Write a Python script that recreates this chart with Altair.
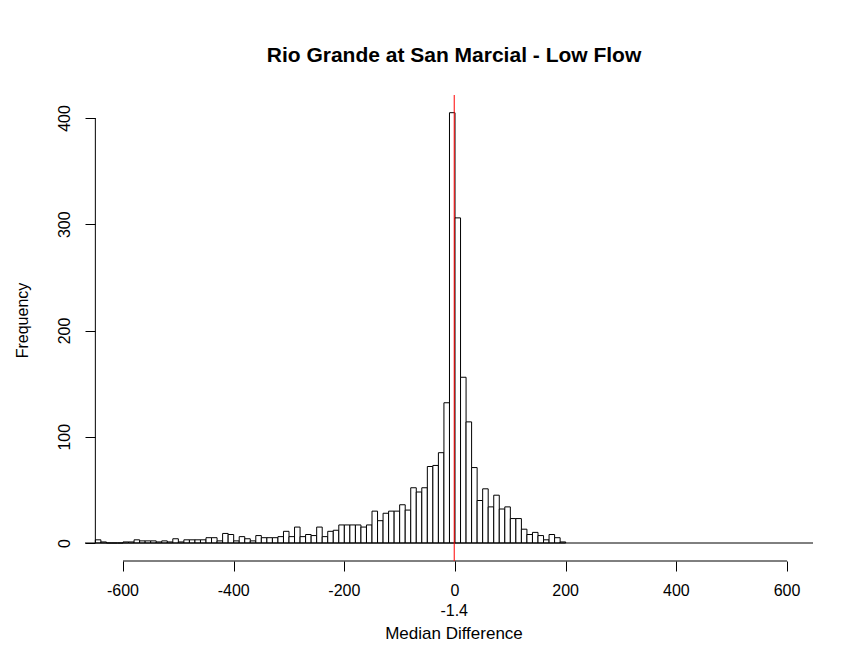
import altair as alt
import pandas as pd

# ---- data ----
bin_starts = list(range(-650, 200, 10))
counts = [
    3, 1, 0, 0, 0,
    1, 1, 3, 2, 2, 2, 1, 2, 1, 4,
    1, 3, 3, 3, 3, 5, 5, 2, 9, 8,
    2, 6, 4, 2, 7, 5, 5, 5, 6, 11,
    6, 15, 6, 8, 7, 15, 6, 11, 12, 17,
    17, 17, 17, 15, 17, 30, 21, 28, 30, 30,
    36, 31, 52, 48, 52, 72, 73, 85, 132, 405,
    306, 156, 114, 71, 40, 51, 34, 45, 32, 34,
    23, 23, 13, 8, 10, 7, 3, 8, 5, 1,
]
bin_width = 10
median_diff = -1.4
median_label = "-1.4"
x_ticks = [-600, -400, -200, 0, 200, 400, 600]
x_tick_labels = ["-600", "-400", "-200", "0", "200", "400", "600"]
y_ticks = [0, 100, 200, 300, 400]
title_text = "Rio Grande at San Marcial - Low Flow"
x_title = "Median Difference"
y_title = "Frequency"

assert len(bin_starts) == len(counts)

df = pd.DataFrame({
    "start": bin_starts,
    "end": [s + bin_width for s in bin_starts],
    "count": counts,
    "zero": [0] * len(counts),
})

W, H = 728, 466
FONT = "Liberation Sans"
xscale = alt.Scale(domain=[-668.7, 647.0], nice=False, zero=False)
yscale = alt.Scale(domain=[-16.94, 421.65], nice=False, zero=False)

x_axis = alt.Axis(values=x_ticks, domain=False, grid=False, tickSize=10,
                  tickColor="black", labels=False,
                  title=x_title, titleFont=FONT, titleFontSize=17,
                  titleFontWeight="normal", titleColor="black",
                  titleX=368.5, titleY=72, titleBaseline="middle",
                  titleAlign="center", titleAnchor="start")

y_axis = alt.Axis(values=y_ticks, domain=False, grid=False, tickSize=10,
                  offset=-10, tickColor="black", labelColor="black",
                  labelFont=FONT, labelFontSize=16, labelAngle=270,
                  labelAlign="center", labelBaseline="bottom",
                  labelPadding=13, labelExpr="'' + datum.value",
                  labelOverlap=False, labelFlush=False,
                  title=y_title, titleFont=FONT, titleFontSize=16,
                  titleFontWeight="normal", titleColor="black",
                  titleAngle=270, titleX=-73, titleY=225,
                  titleBaseline="middle", titleAlign="center",
                  titleAnchor="start")

bars = alt.Chart(df).mark_bar(
    fill="white", stroke="black", strokeWidth=1, cornerRadius=0
).encode(
    x=alt.X("start:Q", scale=xscale, axis=x_axis),
    x2="end:Q",
    y=alt.Y("count:Q", scale=yscale, axis=y_axis),
    y2="zero:Q",
)

base_df = pd.DataFrame({"y0": [0]})
baseline = alt.Chart(base_df).mark_rule(color="black", strokeWidth=1).encode(
    y=alt.Y("y0:Q", scale=yscale)
)

yline_df = pd.DataFrame({"x": [bin_starts[0]], "lo": [y_ticks[0]], "hi": [y_ticks[-1]]})
y_axis_line = alt.Chart(yline_df).mark_rule(color="black", strokeWidth=1).encode(
    x=alt.X("x:Q", scale=xscale), y=alt.Y("lo:Q", scale=yscale), y2="hi:Q"
)

xline_df = pd.DataFrame({"lo": [x_ticks[0]], "hi": [x_ticks[-1]]})
x_axis_line = alt.Chart(xline_df).mark_rule(color="black", strokeWidth=1).encode(
    x=alt.X("lo:Q", scale=xscale), x2="hi:Q", y=alt.value(H)
)

# x tick labels drawn through the x scale
xlab_df = pd.DataFrame({"v": x_ticks, "t": x_tick_labels})
x_labels = alt.Chart(xlab_df).mark_text(
    font=FONT, fontSize=16, color="black", baseline="middle", align="center"
).encode(
    x=alt.X("v:Q", scale=xscale),
    y=alt.value(496),
    text="t:N",
)

med_df = pd.DataFrame({"m": [median_diff], "label": [median_label]})
median_line = alt.Chart(med_df).mark_rule(color="red", strokeWidth=1).encode(
    x=alt.X("m:Q", scale=xscale)
)

median_text = alt.Chart(med_df).mark_text(
    font=FONT, fontSize=16, color="black", baseline="middle", align="center"
).encode(
    x=alt.X("m:Q", scale=xscale),
    y=alt.value(515.5),
    text="label:N",
)

chart = alt.layer(
    bars, baseline, y_axis_line, x_axis_line, median_line, median_text, x_labels
).properties(
    width=W,
    height=H,
    autosize=alt.AutoSizeParams(type="none"),
    padding={"left": 77, "top": 87, "right": 14, "bottom": 100},
    title=alt.TitleParams(title_text, font=FONT, fontSize=21, fontWeight="bold",
                          color="black", anchor="middle", frame="group",
                          baseline="alphabetic", offset=12, dx=5),
).configure(background="white", view=alt.ViewConfig(stroke=None))

chart.save("out.html", embed_options={"renderer": "svg", "actions": False})
